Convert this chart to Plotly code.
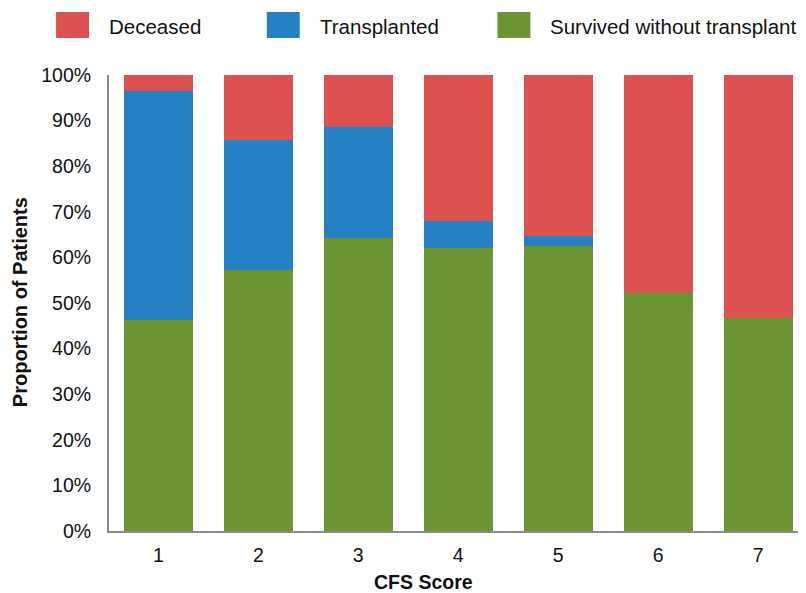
import plotly.graph_objects as go

categories = ["1", "2", "3", "4", "5", "6", "7"]
survived = [46.3, 57.3, 64.3, 62.1, 62.6, 52.3, 46.7]
transplanted = [50.3, 28.4, 24.4, 5.8, 2.2, 0.0, 0.0]
deceased = [3.4, 14.3, 11.3, 32.1, 35.2, 47.7, 53.3]
series_names = ["Deceased", "Transplanted", "Survived without transplant"]
colors = ["#dd5150", "#2581c3", "#6a9532"]
y_ticks = list(range(0, 101, 10))
y_tick_labels = [f"{v}%" for v in y_ticks]

FONT = "Liberation Sans, Arial, sans-serif"
PW, PH = 698.0, 456.0  # plot area size in px


def px_x(p):
    return (p - 109) / PW


def px_y(p):
    return (531 - p) / PH


fig = go.Figure()
for name, vals, col in [
    (series_names[2], survived, colors[2]),
    (series_names[1], transplanted, colors[1]),
    (series_names[0], deceased, colors[0]),
]:
    fig.add_trace(go.Bar(x=categories, y=vals, name=name, marker=dict(color=col, line=dict(width=0)),
                         showlegend=False))

# manual legend (swatches + text)
leg_x = [56, 267, 498]
for i, (name, col) in enumerate(zip(series_names, colors)):
    x0 = leg_x[i]
    fig.add_shape(type="rect", xref="paper", yref="paper",
                  x0=px_x(x0), x1=px_x(x0 + 33),
                  y0=px_y(38), y1=px_y(12),
                  fillcolor=col, line=dict(width=0))
    fig.add_annotation(xref="paper", yref="paper", x=px_x(x0 + 51), y=px_y(26),
                       text=name, showarrow=False, xanchor="left", yanchor="middle",
                       font=dict(family=FONT, size=20.5, color="#111111"))

fig.add_annotation(xref="paper", yref="paper", x=px_x(424), y=px_y(582),
                   text="<b>CFS Score</b>", showarrow=False, xanchor="center", yanchor="middle",
                   font=dict(family=FONT, size=19.5, color="#111111"))
fig.add_annotation(xref="paper", yref="paper", x=px_x(20), y=px_y(302),
                   text="<b>Proportion of Patients</b>", showarrow=False, textangle=-90,
                   xanchor="center", yanchor="middle",
                   font=dict(family=FONT, size=20, color="#111111"))

fig.update_layout(
    width=798, height=585,
    margin=dict(l=101, r=0, t=67, b=62),
    barmode="stack", bargap=0.31,
    plot_bgcolor="white", paper_bgcolor="white",
    font=dict(family=FONT, size=19.5, color="#111111"),
    xaxis=dict(type="category", range=[-0.494, 6.479], showgrid=False, showline=True,
               linecolor="#8a8a8a", linewidth=2, ticks="outside", ticklen=6, tickcolor="rgba(0,0,0,0)",
               tickfont=dict(family=FONT, size=19.5, color="#111111")),
    yaxis=dict(range=[0, 100], tickvals=y_ticks, ticktext=y_tick_labels, showgrid=False,
               showline=True, linecolor="#8a8a8a", linewidth=2, zeroline=False,
               ticks="outside", ticklen=12, tickcolor="rgba(0,0,0,0)",
               tickfont=dict(family=FONT, size=19.5, color="#111111")),
)

fig.write_html("out.html")
